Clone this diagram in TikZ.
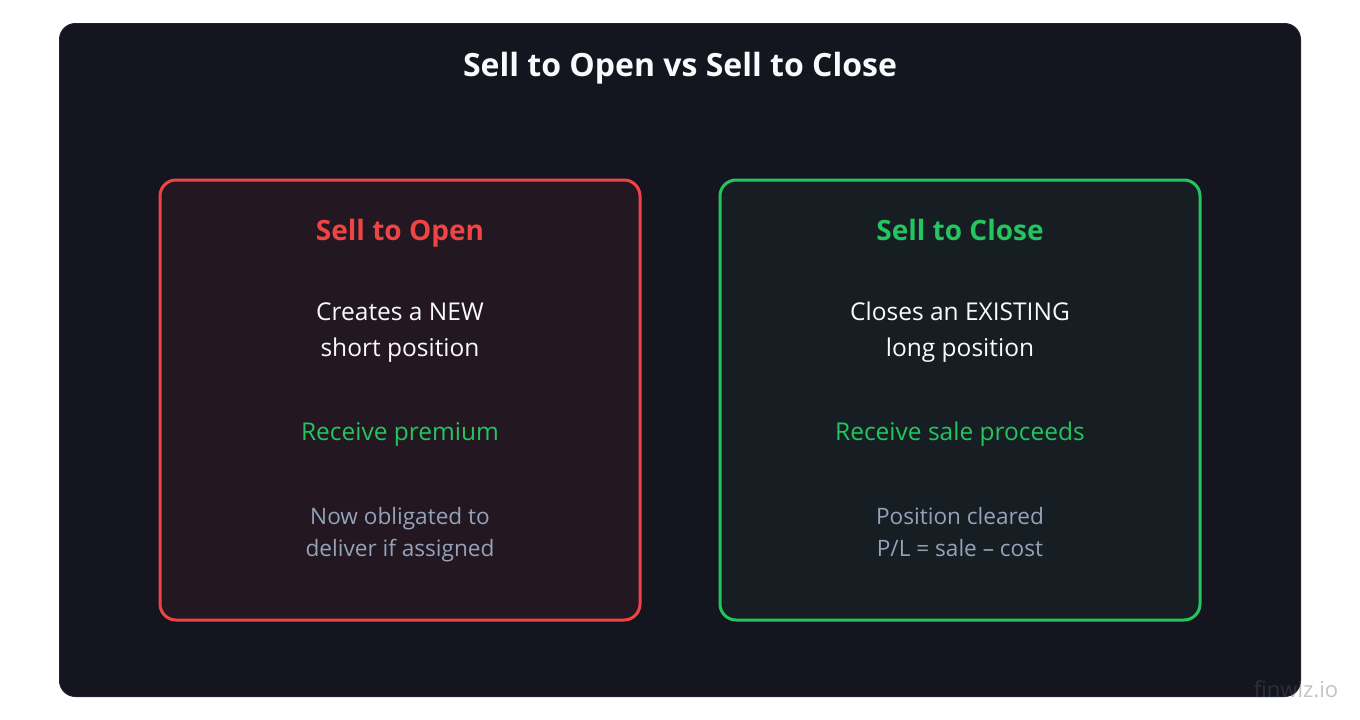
\documentclass[tikz,border=0pt]{standalone}
\usepackage{fontspec}
\usepackage{xcolor}
\setmainfont{Open Sans}
\definecolor{cardbg}{HTML}{14151F}
\definecolor{cardline}{HTML}{1F2030}
\definecolor{redline}{HTML}{EF4444}
\definecolor{redbg}{HTML}{231722}
\definecolor{greenline}{HTML}{22C55E}
\definecolor{greenbg}{HTML}{161E24}
\definecolor{whitetext}{HTML}{F8FAFC}
\definecolor{graytext}{HTML}{94A3B8}
\definecolor{marktext}{HTML}{5A5C68}
\tikzset{
	main box/.style={rounded corners=16pt,line width=3pt},
	title text/.style={font=\bfseries\fontsize{32}{38}\selectfont,text=whitetext,inner sep=0pt,anchor=base},
	head text/.style={font=\bfseries\fontsize{28}{34}\selectfont,inner sep=0pt,anchor=base},
	body text/.style={font=\fontsize{24.5}{36}\selectfont,text=whitetext,align=center,inner sep=0pt,anchor=base},
	gain text/.style={font=\fontsize{24.5}{30}\selectfont,text=greenline,inner sep=0pt,anchor=base},
	note text/.style={font=\fontsize{22.6}{32}\selectfont,text=graytext,align=center,inner sep=0pt,anchor=base}
}
\begin{document}
\begin{tikzpicture}[x=1pt,y=-1pt]
	\useasboundingbox (0,0) rectangle (1360,720);
	\fill[white] (0,0) rectangle (1360,720);
	\draw[fill=cardbg,draw=cardline,line width=1pt,rounded corners=16pt] (59.5,23.5) rectangle (1300.5,696.5);
	\node [title text] (title) at (680,76) {Sell to Open vs Sell to Close};
	% left box
	\draw[main box,draw=redline,fill=redbg] (160,180) rectangle (640,620);
	\node [head text,text=redline] (openhead) at (400,240) {Sell to Open};
	\node [body text] (openbody) at (400,356) {Creates a NEW\\short position};
	\node [gain text] (opengain) at (400,440) {Receive premium};
	\node [note text] (opennote) at (400,556) {Now obligated to\\deliver if assigned};
	% right box
	\draw[main box,draw=greenline,fill=greenbg] (720,180) rectangle (1200,620);
	\node [head text,text=greenline] (closehead) at (960,240) {Sell to Close};
	\node [body text] (closebody) at (960,356) {Closes an EXISTING\\long position};
	\node [gain text] (closegain) at (960,440) {Receive sale proceeds};
	\node [note text] (closenote) at (960,556) {Position cleared\\P/L = sale – cost};
	% watermark
	\node [font=\fontsize{22}{24}\selectfont,text=marktext,text opacity=.37,inner sep=0pt,anchor=base] (mark) at (1296,697) {finwiz.io};
\end{tikzpicture}
\end{document}
